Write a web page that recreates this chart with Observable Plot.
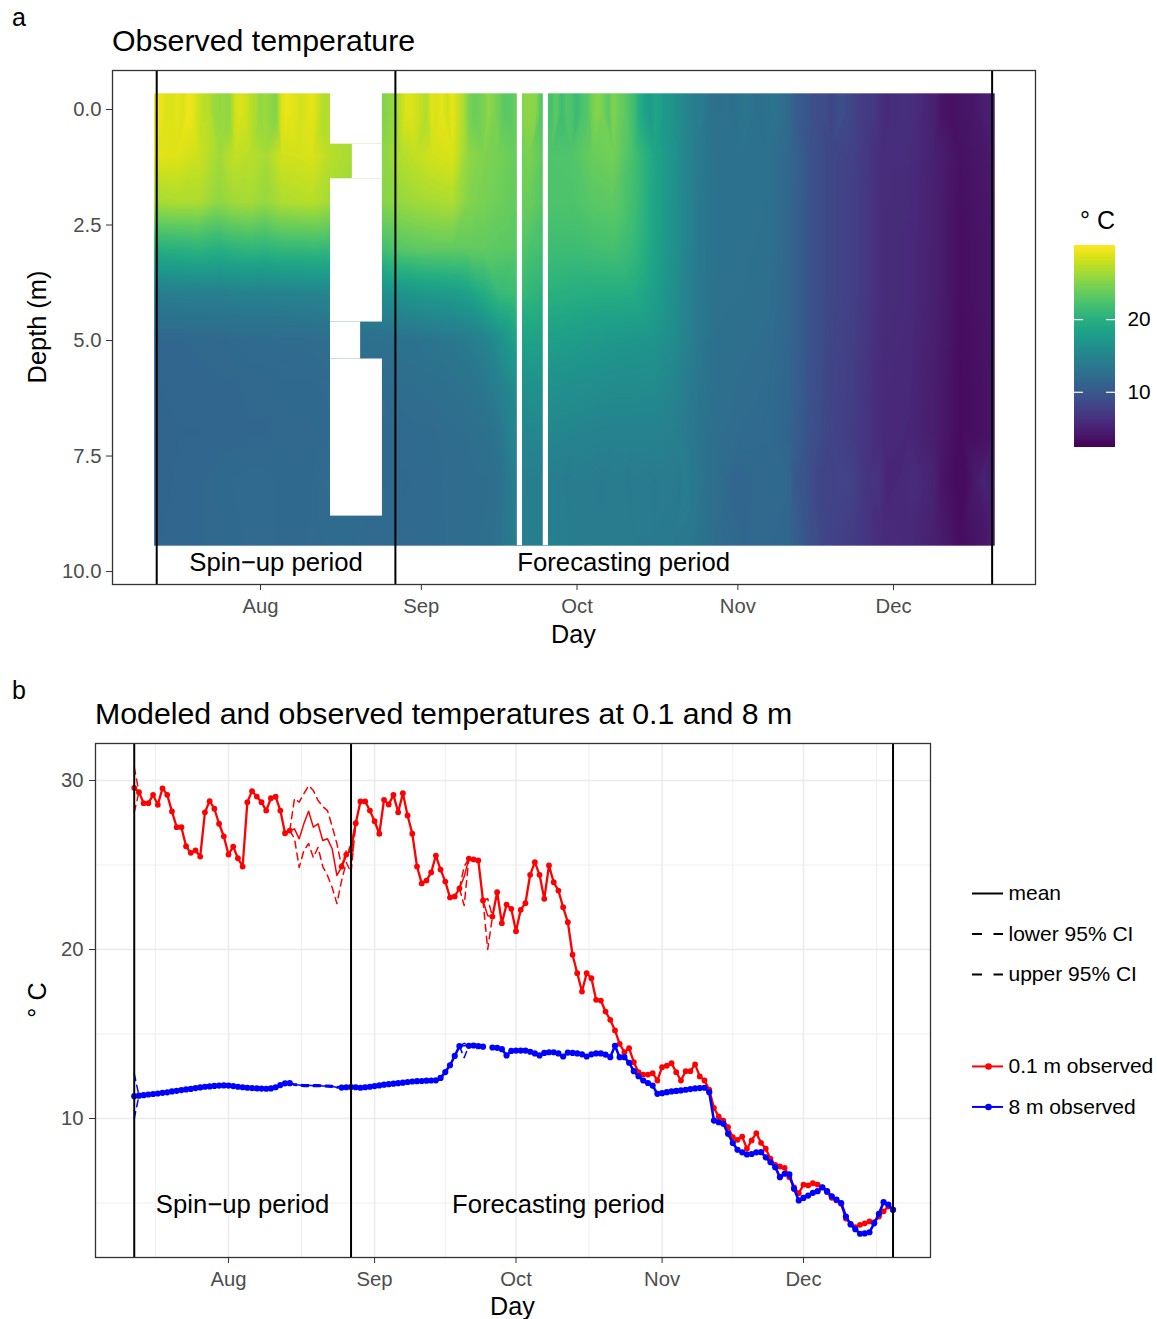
<!DOCTYPE html>
<html><head><meta charset="utf-8">
<script src="https://cdn.jsdelivr.net/npm/d3@7"></script>
<script src="https://cdn.jsdelivr.net/npm/@observablehq/plot@0.6"></script>
<style>
body{margin:0;background:#fff;}
#root{position:relative;width:1157px;height:1319px;overflow:hidden;background:#fff;}
</style></head><body><div id="root"></div>
<script>
// ---------------- DATA ----------------
// Daily series start on 12 Jul 2018 (index = days since start). null = no observation.
const obs01 = [29.57,29.31,28.66,28.66,29.15,28.56,29.54,29.15,28.17,27.24,27.24,26.11,25.72,25.86,25.50,28.12,28.78,28.33,27.44,26.70,25.62,26.09,25.40,24.91,28.72,29.37,29.05,28.72,28.22,28.95,29.04,28.22,26.88,27.04,
 null,null,null,null,null,null,null,null,null,null,
 24.91,25.62,25.90,27.47,28.76,28.76,28.22,27.59,26.85,28.86,28.58,29.15,28.12,29.25,27.93,26.85,24.91,23.91,24.08,24.56,25.56,24.73,24.02,23.08,23.14,23.61,
 null,25.38,25.33,25.27,22.90,null,
 21.95,23.39,21.56,22.66,22.41,21.08,22.35,22.74,24.42,25.17,24.42,23.00,24.97,23.98,23.49,22.50,21.62,19.69,18.60,17.51,18.60,18.30,17.02,16.98,16.33,15.84,15.21,14.42,13.92,14.16,13.33,12.74,12.60,12.60,12.68,12.25,13.04,13.12,13.27,12.74,12.25,12.80,12.80,13.20,12.49,12.25,11.70,10.63,10.12,9.88,9.49,8.89,8.74,8.93,8.21,8.70,9.13,8.56,8.21,7.62,7.26,7.16,7.08,6.53,5.93,5.58,6.09,6.04,6.17,6.09,5.93,5.64,5.31,5.15,4.95,4.08,3.77,3.57,3.71,3.80,3.91,3.86,4.20,4.51,4.79,4.60];
const obs8 = [11.32,11.35,11.38,11.42,11.45,11.48,11.52,11.55,11.60,11.64,11.68,11.72,11.75,11.80,11.84,11.88,11.90,11.93,11.95,11.96,11.95,11.92,11.88,11.85,11.82,11.80,11.78,11.77,11.76,11.78,11.85,11.98,12.08,12.09,
 null,null,null,null,null,null,null,null,null,null,
 11.83,11.85,11.86,11.85,11.82,11.85,11.88,11.92,11.96,12.00,12.03,12.06,12.09,12.12,12.16,12.19,12.21,12.22,12.24,12.25,12.26,12.40,12.75,13.15,13.70,14.28,
 null,14.30,14.32,14.28,14.25,null,
 14.20,14.18,14.10,13.73,14.00,14.02,14.02,14.02,13.95,13.85,13.73,13.88,13.92,13.92,13.85,13.67,13.90,13.88,13.85,13.80,13.67,13.80,13.85,13.85,13.78,13.63,14.30,13.63,13.63,13.30,12.80,12.50,12.25,12.10,11.95,11.46,11.50,11.56,11.60,11.63,11.66,11.70,11.74,11.78,11.80,11.82,11.56,9.88,9.78,9.69,9.10,8.55,8.15,8.00,7.87,7.90,8.00,8.01,7.70,7.41,7.12,6.53,6.73,6.69,5.84,5.15,5.30,5.44,5.60,5.70,5.93,5.70,5.40,5.20,5.00,4.20,3.73,3.45,3.18,3.20,3.27,3.80,4.36,5.05,4.91,4.60];

// Modelled 0.1 m (mean, lower / upper 95% CI) where it departs from the observations
const redModelDays  = [0,1,33,34,35,36,37,38,39,40,41,42,43,44,45,46,47,69,70,71,74,75,76];
const redModelMean  = [29.57,29.31,27.04,27.14,26.55,27.45,28.18,27.24,27.44,26.45,26.55,25.96,24.38,24.87,25.62,25.90,27.47,23.61,24.30,25.38,22.90,22.00,21.95];
const redModelLower = [28.12,29.31,27.04,26.57,24.85,25.86,26.27,25.44,26.04,24.91,24.38,23.67,22.72,24.08,25.15,24.56,27.47,23.61,22.60,25.38,22.90,20.00,21.95];
const redModelUpper = [30.79,29.31,27.04,28.93,28.72,29.23,29.70,29.41,28.82,28.46,28.22,27.28,26.27,24.91,25.86,26.15,27.47,23.61,24.90,25.38,22.90,23.00,21.95];
// Modelled 8 m
const blueModelDays  = [0,1,33,34,35,36,37,38,39,40,41,42,43,44,69,70,71];
const blueModelMean  = [11.32,11.35,12.09,12.00,11.98,11.95,11.95,11.95,11.95,11.93,11.92,11.90,11.85,11.83,14.28,14.30,14.30];
const blueModelLower = [10.00,11.35,12.09,11.96,11.93,11.90,11.90,11.90,11.90,11.88,11.87,11.85,11.80,11.83,14.28,13.60,14.30];
const blueModelUpper = [12.66,11.35,12.09,12.04,12.03,12.00,12.00,12.00,12.00,11.98,11.97,11.95,11.90,11.83,14.28,14.45,14.30];

// Observed temperature profile (panel a) at key days for intermediate depths
const heatKeyDays = [0,4,8,12,15,18,21,24,27,30,33,44,47,50,53,57,60,63,66,69,72,76,80,84,88,92,96,100,104,108,113,118,122,126,130,135,140,145,150,155,161];
const heat1m = [29.0,28.8,28.0,26.3,27.6,27.3,26.5,28.2,28.3,28.6,27.3,25.5,27.0,27.6,28.2,28.6,25.6,24.8,24.3,23.8,24.6,22.5,22.6,23.8,24.3,21.9,18.8,16.4,14.0,12.7,12.9,12.7,11.6,9.5,8.3,7.5,5.9,5.9,4.9,3.6,4.3];
const heat2m = [26.5,26.8,26.8,25.5,26.3,26.5,25.8,26.8,27.0,27.2,26.5,25.2,25.8,26.2,26.5,26.8,25.0,24.5,24.0,23.6,23.8,22.4,22.4,23.0,23.3,21.7,18.7,16.3,13.9,12.8,12.8,12.6,11.5,9.5,8.3,7.4,5.9,5.8,4.8,3.5,4.1];
const heat3m = [20.0,20.2,20.5,20.0,20.5,20.8,20.5,21.0,21.0,21.2,21.0,22.0,23.0,23.3,23.5,23.5,23.5,23.5,23.2,23.0,22.3,21.6,21.5,21.8,22.0,21.0,18.5,16.2,13.9,12.8,12.7,12.5,11.5,9.5,8.3,7.4,5.9,5.7,4.8,3.4,4.0];
const heat4m = [14.0,14.2,14.3,14.3,14.5,14.5,14.5,14.6,14.7,14.8,15.0,16.2,16.6,17.0,17.3,17.6,18.2,19.5,21.0,21.5,20.6,20.0,19.8,19.6,19.6,19.5,18.0,16.0,13.8,12.7,12.6,12.4,11.5,9.5,8.3,7.4,5.9,5.7,4.8,3.4,4.0];
const heat5m = [11.6,11.6,11.7,11.8,11.9,12.0,12.0,12.1,12.1,12.2,12.3,12.6,12.8,13.0,13.2,13.5,13.9,14.6,16.2,18.0,18.5,18.0,17.8,17.5,17.2,17.0,16.8,15.7,13.8,12.6,12.4,12.2,11.5,9.5,8.2,7.3,5.8,5.6,4.7,3.3,3.9];
const heat6m = [11.4,11.5,11.5,11.6,11.6,11.7,11.7,11.8,11.8,11.8,11.9,12.0,12.2,12.3,12.4,12.6,12.9,13.4,14.4,15.8,16.5,16.3,16.2,16.0,15.8,15.8,15.7,15.0,13.5,12.5,12.2,12.0,11.4,9.4,8.1,7.2,5.7,5.5,4.6,3.2,3.8];
const heat7m = [11.3,11.4,11.4,11.5,11.5,11.6,11.6,11.7,11.7,11.7,11.8,11.8,11.9,12.0,12.0,12.2,12.3,12.6,13.3,15.0,15.3,15.2,15.0,14.8,14.7,14.7,14.7,14.3,13.3,12.4,12.0,11.9,11.3,9.3,8.0,7.1,5.7,5.4,4.6,3.2,3.8];
const heat9m = [11.4,11.5,11.6,11.7,11.8,11.9,11.9,11.8,11.8,11.9,12.0,11.9,11.9,11.9,12.0,12.1,12.2,12.3,12.8,14.0,14.3,14.2,14.0,13.9,13.9,13.8,13.8,13.7,13.3,12.2,11.6,11.7,11.4,9.2,7.9,7.2,5.8,5.6,4.8,3.3,4.4];
// Missing-data blocks in the profile: [start day, end day, top depth, bottom depth]
const heatGaps = [[33.5,43.5,-0.35,0.75],[37.7,43.5,0.75,1.5],[33.5,43.5,1.5,4.6],[33.5,39.3,4.6,5.4],[33.5,43.5,5.4,8.8],[69.5,70.5,-0.35,9.44],[74.5,75.5,-0.35,9.44]];

const periodBoundDays = [0, 46, 161];            // 12 Jul, 27 Aug, 20 Dec
const periodNames = ["Spin\u2212up period", "Forecasting period"];
const depthTicks = [0, 2.5, 5, 7.5, 10];
const tempTicks = [10, 20, 30];
const colorTicks = [10, 20];
const legendLabels = ["mean", "lower 95% CI", "upper 95% CI", "0.1 m observed", "8 m observed"];

// ---------------- HELPERS ----------------
const FONT = '"Liberation Sans", Arial, Helvetica, sans-serif';
const DAY = 864e5;
const START = Date.UTC(2018, 6, 12);
const AUG1 = Date.UTC(2018, 7, 1);
const dayDate = d => new Date(START + d * DAY);
const monthTicks = [7, 8, 9, 10, 11].map(m => new Date(Date.UTC(2018, m, 1)));
const monthEdges = [6, 7, 8, 9, 10, 11, 12].map(m => Date.UTC(2018, m, 1));
const minorX = monthEdges.slice(1).map((t, i) => new Date((t + monthEdges[i]) / 2));
const minorY = [5, 15, 25];
const colorDomain = [2.4, 30.2];
const RASTER_X = [-0.5, 161.5], RASTER_Y = [-0.35, 9.44];

const obsRows = obs01.map((t, d) => ({date: dayDate(d), t01: t, t8: obs8[d]}));
function modelRows(days, mean, lo, hi) {
  let seg = 0;
  return days.map((d, i) => {
    if (i > 0 && d !== days[i - 1] + 1) seg++;
    return {date: dayDate(d), mean: mean[i], lo: lo[i], hi: hi[i], seg};
  });
}
const redModel = modelRows(redModelDays, redModelMean, redModelLower, redModelUpper);
const blueModel = modelRows(blueModelDays, blueModelMean, blueModelLower, blueModelUpper);

// Sample points for the raster; each profile row is also carried to the edges of its tile
const heatPoints = [];
function addRow(depth, days, vals) {
  const ok = [];
  days.forEach((d, k) => { if (vals[k] != null) ok.push([d, vals[k]]); });
  ok.forEach(([d, t]) => heatPoints.push({date: dayDate(d), depth, temp: t}));
  heatPoints.push({date: dayDate(RASTER_X[0]), depth, temp: ok[0][1]});
  heatPoints.push({date: dayDate(RASTER_X[1]), depth, temp: ok[ok.length - 1][1]});
}
const allDays = obs01.map((_, d) => d);
addRow(RASTER_Y[0], allDays, obs01);
addRow(0.1, allDays, obs01);
[[1, heat1m], [2, heat2m], [3, heat3m], [4, heat4m], [5, heat5m], [6, heat6m], [7, heat7m]]
  .forEach(([depth, row]) => addRow(depth, heatKeyDays, row));
addRow(8, allDays, obs8);
addRow(9.3, heatKeyDays, heat9m);
addRow(RASTER_Y[1], heatKeyDays, heat9m);

const root = document.getElementById("root");
function place(el, left, top) {
  el.style.position = "absolute"; el.style.left = left + "px"; el.style.top = top + "px";
  el.style.maxWidth = "none"; root.appendChild(el);
}
const baseStyle = {fontFamily: FONT, fontSize: "20.3px", background: "transparent", overflow: "visible", color: "#000"};

// ---------------- PANEL A ----------------
const plotA = Plot.plot({
  width: 1060, height: 660,
  marginLeft: 112, marginRight: 25, marginTop: 70, marginBottom: 76,
  style: baseStyle,
  x: {type: "utc", domain: [new Date(AUG1 - 28.52 * DAY), new Date(AUG1 + 149.36 * DAY)], axis: null},
  y: {domain: [-0.844, 10.28], reverse: true, axis: null},
  color: {type: "linear", scheme: "viridis", domain: colorDomain},
  marks: [
    Plot.raster(heatPoints, {x: "date", y: "depth", fill: "temp", interpolate: "barycentric",
      x1: dayDate(RASTER_X[0]), x2: dayDate(RASTER_X[1]), y1: RASTER_Y[0], y2: RASTER_Y[1]}),
    Plot.rect(heatGaps, {x1: d => dayDate(d[0]), x2: d => dayDate(d[1]), y1: d => d[2], y2: d => d[3], fill: "white"}),
    Plot.ruleX(periodBoundDays.map(dayDate), {stroke: "black", strokeWidth: 2}),
    Plot.text(periodNames, {x: (d, i) => dayDate([23, 90][i]), y: () => 9.8, text: d => d, fontSize: 25.7, fill: "black"}),
    Plot.frame({stroke: "#333", strokeWidth: 1.3}),
    Plot.axisY({ticks: depthTicks, tickFormat: d3.format(".1f"), tickSize: 6, tickPadding: 5, color: "#4d4d4d", stroke: "#333", label: null}),
    Plot.axisX({ticks: monthTicks, tickFormat: d3.utcFormat("%b"), tickSize: 6, tickPadding: 8, color: "#4d4d4d", stroke: "#333", label: null})
  ]
});
place(plotA, 0, 0);

// colour bar
const cbBins = d3.range(colorDomain[0], colorDomain[1], 0.1);
const plotCB = Plot.plot({
  width: 97, height: 280, marginLeft: 0, marginRight: 0, marginTop: 0, marginBottom: 0,
  style: baseStyle,
  x: {type: "identity", axis: null},
  y: {domain: colorDomain, range: [257, 55], axis: null},
  color: {type: "linear", scheme: "viridis", domain: colorDomain},
  marks: [
    Plot.rect(cbBins, {x1: () => 14, x2: () => 55, y1: d => d, y2: d => Math.min(d + 0.13, colorDomain[1]), fill: d => d + 0.05, shapeRendering: "crispEdges"}),
    Plot.ruleY(colorTicks, {x1: () => 14, x2: () => 23, stroke: "white", strokeWidth: 1.2}),
    Plot.ruleY(colorTicks, {x1: () => 46, x2: () => 55, stroke: "white", strokeWidth: 1.2}),
    Plot.text(colorTicks, {x: () => 67, y: d => d, text: d => String(d), textAnchor: "start", fontSize: 20.8, fill: "black"})
  ]
});
place(plotCB, 1060, 190);

// ---------------- PANEL B ----------------
const dash = "7,5";
const plotB = Plot.plot({
  width: 940, height: 639,
  marginLeft: 95, marginRight: 10, marginTop: 63, marginBottom: 62,
  style: baseStyle,
  x: {type: "utc", domain: [new Date(AUG1 - 28.22 * DAY), new Date(AUG1 + 148.95 * DAY)], axis: null},
  y: {domain: [1.775, 32.19], axis: null},
  marks: [
    Plot.ruleY(minorY, {stroke: "#ebebeb", strokeWidth: 0.8}),
    Plot.ruleX(minorX, {stroke: "#ebebeb", strokeWidth: 0.8}),
    Plot.ruleY(tempTicks, {stroke: "#ebebeb", strokeWidth: 1.5}),
    Plot.ruleX(monthTicks, {stroke: "#ebebeb", strokeWidth: 1.5}),
    Plot.line(redModel, {x: "date", y: "lo", z: "seg", stroke: "red", strokeWidth: 1.5, strokeDasharray: dash}),
    Plot.line(redModel, {x: "date", y: "hi", z: "seg", stroke: "red", strokeWidth: 1.5, strokeDasharray: dash}),
    Plot.line(redModel, {x: "date", y: "mean", z: "seg", stroke: "red", strokeWidth: 1.5}),
    Plot.line(blueModel, {x: "date", y: "lo", z: "seg", stroke: "blue", strokeWidth: 1.5, strokeDasharray: dash}),
    Plot.line(blueModel, {x: "date", y: "hi", z: "seg", stroke: "blue", strokeWidth: 1.5, strokeDasharray: dash}),
    Plot.line(blueModel, {x: "date", y: "mean", z: "seg", stroke: "blue", strokeWidth: 1.5}),
    Plot.line(obsRows, {x: "date", y: "t01", stroke: "red", strokeWidth: 2.3}),
    Plot.dot(obsRows, {x: "date", y: "t01", r: 2.9, fill: "red"}),
    Plot.line(obsRows, {x: "date", y: "t8", stroke: "blue", strokeWidth: 2.6}),
    Plot.dot(obsRows, {x: "date", y: "t8", r: 3.1, fill: "blue"}),
    Plot.ruleX(periodBoundDays.map(dayDate), {stroke: "black", strokeWidth: 2}),
    Plot.text(periodNames, {x: (d, i) => dayDate([23, 90][i]), y: () => 4.9, text: d => d, fontSize: 25.7, fill: "black"}),
    Plot.frame({stroke: "#333", strokeWidth: 1.3}),
    Plot.axisY({ticks: tempTicks, tickSize: 6, tickPadding: 6, color: "#4d4d4d", stroke: "#333", label: null}),
    Plot.axisX({ticks: monthTicks, tickFormat: d3.utcFormat("%b"), tickSize: 6, tickPadding: 8, color: "#4d4d4d", stroke: "#333", label: null})
  ]
});
place(plotB, 0, 680);

// legend for panel b
const slots = [0, 1, 2, 4.27, 5.27];
const legRows = legendLabels.map((label, i) => ({label, y: 23 + slots[i] * 40.5}));
const plotLeg = Plot.plot({
  width: 197, height: 260, marginLeft: 0, marginRight: 0, marginTop: 0, marginBottom: 0,
  style: baseStyle,
  x: {type: "identity", axis: null}, y: {type: "identity", axis: null},
  marks: [
    Plot.ruleY(legRows.slice(0, 1), {y: "y", x1: () => 12, x2: () => 43, stroke: "black", strokeWidth: 2}),
    Plot.ruleY(legRows.slice(1, 3), {y: "y", x1: () => 12, x2: () => 43, stroke: "black", strokeWidth: 2, strokeDasharray: "10,11.5"}),
    Plot.ruleY(legRows.slice(3, 4), {y: "y", x1: () => 12, x2: () => 43, stroke: "red", strokeWidth: 2}),
    Plot.dot(legRows.slice(3, 4), {y: "y", x: () => 28, r: 3.3, fill: "red"}),
    Plot.ruleY(legRows.slice(4, 5), {y: "y", x1: () => 12, x2: () => 43, stroke: "blue", strokeWidth: 2}),
    Plot.dot(legRows.slice(4, 5), {y: "y", x: () => 28, r: 3.3, fill: "blue"}),
    Plot.text(legRows, {x: () => 48, y: "y", text: "label", textAnchor: "start", fontSize: 21, fill: "black"})
  ]
});
place(plotLeg, 960, 870);

// ---------------- TITLES / AXIS TITLES ----------------
const ov = d3.create("svg").attr("width", 1157).attr("height", 1319)
  .style("position", "absolute").style("left", "0px").style("top", "0px")
  .style("font-family", FONT).style("pointer-events", "none");
function label(x, y, size, txt, anchor = "start", rotate = false) {
  const t = ov.append("text").attr("x", x).attr("y", y).attr("font-size", size)
    .attr("text-anchor", anchor).attr("fill", "#000").text(txt);
  if (rotate) t.attr("transform", `rotate(-90 ${x} ${y})`);
}
label(12, 26, 25, "a");
label(112, 51, 30.3, "Observed temperature");
label(46, 327, 25.4, "Depth (m)", "middle", true);
label(573.5, 643, 25.2, "Day", "middle");
label(1080, 229, 25, "\u00B0 C");
label(12, 699, 25, "b");
label(95, 724, 30.3, "Modeled and observed temperatures at 0.1 and 8 m");
label(46, 1000, 25.2, "\u00B0 C", "middle", true);
label(512.5, 1315, 25.2, "Day", "middle");
root.appendChild(ov.node());
</script></body></html>
